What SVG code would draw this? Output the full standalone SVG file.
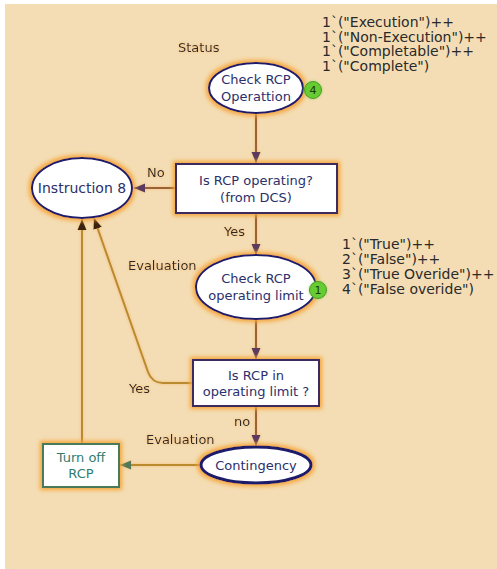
<svg xmlns="http://www.w3.org/2000/svg" width="497" height="569" viewBox="0 0 497 569">
<style>
text{font-family:"DejaVu Sans",Verdana,sans-serif;}
.node{font-size:13px;fill:#2b2f6b;text-anchor:middle;}
.lbl{font-size:13px;fill:#2a2a2a;}
.tok{font-size:14px;fill:#2a2a2a;}
.place{fill:#ffffff;stroke:#1c1a6b;stroke-width:2;}
.trans{fill:#ffffff;stroke:#3d2b5e;stroke-width:2;}
.arc{fill:none;stroke:#9a6434;stroke-width:2;}
.arc2{fill:none;stroke:#b98a2e;stroke-width:2;}
.badge{fill:#66cc33;stroke:#4a9a22;stroke-width:1;}
.btxt{font-size:11px;fill:#1a3a0a;text-anchor:middle;}
</style>
<defs>
<filter id="glow" x="-30%" y="-30%" width="160%" height="160%">
<feMorphology in="SourceAlpha" operator="dilate" radius="2" result="d"/>
<feGaussianBlur in="d" stdDeviation="2" result="b"/>
<feFlood flood-color="#f5a53a" result="c"/>
<feComposite in="c" in2="b" operator="in" result="g"/>
<feMerge><feMergeNode in="g"/><feMergeNode in="SourceGraphic"/></feMerge>
</filter>
<filter id="lglow" x="-30%" y="-30%" width="160%" height="160%">
<feGaussianBlur in="SourceAlpha" stdDeviation="1.5" result="b"/>
<feFlood flood-color="#f5b060" flood-opacity="0.8" result="c"/>
<feComposite in="c" in2="b" operator="in" result="g"/>
<feMerge><feMergeNode in="g"/><feMergeNode in="SourceGraphic"/></feMerge>
</filter>
<filter id="bglow" x="-50%" y="-50%" width="200%" height="200%">
<feGaussianBlur in="SourceAlpha" stdDeviation="1.5" result="b"/>
<feFlood flood-color="#8fd860" flood-opacity="0.8" result="c"/>
<feComposite in="c" in2="b" operator="in" result="g"/>
<feMerge><feMergeNode in="g"/><feMergeNode in="SourceGraphic"/></feMerge>
</filter>
<marker id="ap" markerUnits="userSpaceOnUse" markerWidth="12" markerHeight="10" refX="11" refY="5" orient="auto">
<path d="M0,0.5 L11,5 L0,9.5 Z" fill="#5a3a5e"/>
</marker>
<marker id="ad" markerUnits="userSpaceOnUse" markerWidth="12" markerHeight="10" refX="11" refY="5" orient="auto">
<path d="M0,0.5 L11,5 L0,9.5 Z" fill="#3a2410"/>
</marker>
<marker id="ag" markerUnits="userSpaceOnUse" markerWidth="12" markerHeight="10" refX="11" refY="5" orient="auto">
<path d="M0,0.5 L11,5 L0,9.5 Z" fill="#4f7a5a"/>
</marker>
</defs>
<rect x="0" y="0" width="497" height="569" fill="#ffffff"/>
<rect x="5" y="4" width="492" height="565" fill="#f4ddb4"/>

<g id="connectors" filter="url(#lglow)">
<path class="arc" d="M256,113 L256,163" marker-end="url(#ap)"/>
<path class="arc" d="M176,188 L134,188" marker-end="url(#ap)"/>
<path class="arc" d="M256,213 L256,255" marker-end="url(#ap)"/>
<path class="arc" d="M256,318 L256,359" marker-end="url(#ap)"/>
<path class="arc" d="M256,406 L256,446" marker-end="url(#ap)"/>
<path class="arc2" d="M201,465 L120,465" stroke="#9a7a2e" marker-end="url(#ag)"/>
<path class="arc2" d="M82,443 L82,219" marker-end="url(#ad)"/>
<path class="arc2" d="M193,383 L163,383 Q152,383 148,372 L94,218" marker-end="url(#ad)"/>
<text class="lbl" x="147" y="177">No</text>
<text class="lbl" x="224" y="236">Yes</text>
<text class="lbl" x="128" y="270">Evaluation</text>
<text class="lbl" x="129" y="393">Yes</text>
<text class="lbl" x="234" y="426">no</text>
<text class="lbl" x="146" y="444">Evaluation</text>
<text class="lbl" x="178" y="52">Status</text>
</g>

<g id="check-rcp-operattion">
<ellipse class="place" cx="256" cy="88" rx="47" ry="25" filter="url(#glow)"/>
<text class="node" x="256" y="84">Check RCP</text>
<text class="node" x="256" y="101">Operattion</text>
<circle class="badge" cx="313" cy="90" r="8.5" filter="url(#bglow)"/>
<text class="btxt" x="313" y="94">4</text>
<text class="tok" x="322" y="27">1`("Execution")++</text>
<text class="tok" x="322" y="41.5">1`("Non-Execution")++</text>
<text class="tok" x="322" y="56">1`("Completable")++</text>
<text class="tok" x="322" y="70.5">1`("Complete")</text>
</g>

<g id="is-rcp-operating">
<rect class="trans" x="176" y="164" width="161" height="49" filter="url(#glow)"/>
<text class="node" x="256" y="185">Is RCP operating?</text>
<text class="node" x="256" y="202">(from DCS)</text>
</g>

<g id="instruction-8">
<ellipse class="place" cx="82" cy="188" rx="50" ry="30" filter="url(#glow)"/>
<text class="node" x="82" y="193" style="font-size:14px">Instruction 8</text>
</g>

<g id="check-rcp-operating-limit">
<ellipse class="place" cx="256" cy="287" rx="60" ry="32" filter="url(#glow)"/>
<text class="node" x="256" y="283">Check RCP</text>
<text class="node" x="256" y="300">operating limit</text>
<circle class="badge" cx="318" cy="290" r="8.5" filter="url(#bglow)"/>
<text class="btxt" x="318" y="294">1</text>
<text class="tok" x="342" y="249">1`("True")++</text>
<text class="tok" x="342" y="264">2`("False")++</text>
<text class="tok" x="342" y="279">3`("True Overide")++</text>
<text class="tok" x="342" y="294">4`("False overide")</text>
</g>

<g id="is-rcp-in-operating-limit">
<rect class="trans" x="193" y="360" width="126" height="46" filter="url(#glow)"/>
<text class="node" x="256" y="380">Is RCP in</text>
<text class="node" x="256" y="396">operating limit ?</text>
</g>

<g id="contingency">
<ellipse class="place" cx="256" cy="465" rx="55" ry="18" style="stroke-width:3" filter="url(#glow)"/>
<text class="node" x="256" y="470">Contingency</text>
</g>

<g id="turn-off-rcp">
<rect x="43" y="444" width="76" height="43" fill="#ffffff" stroke="#4a7a5a" stroke-width="2" filter="url(#glow)"/>
<text class="node" x="81" y="462" style="fill:#2e7d70">Turn off</text>
<text class="node" x="81" y="478" style="fill:#2e7d70">RCP</text>
</g>
</svg>
